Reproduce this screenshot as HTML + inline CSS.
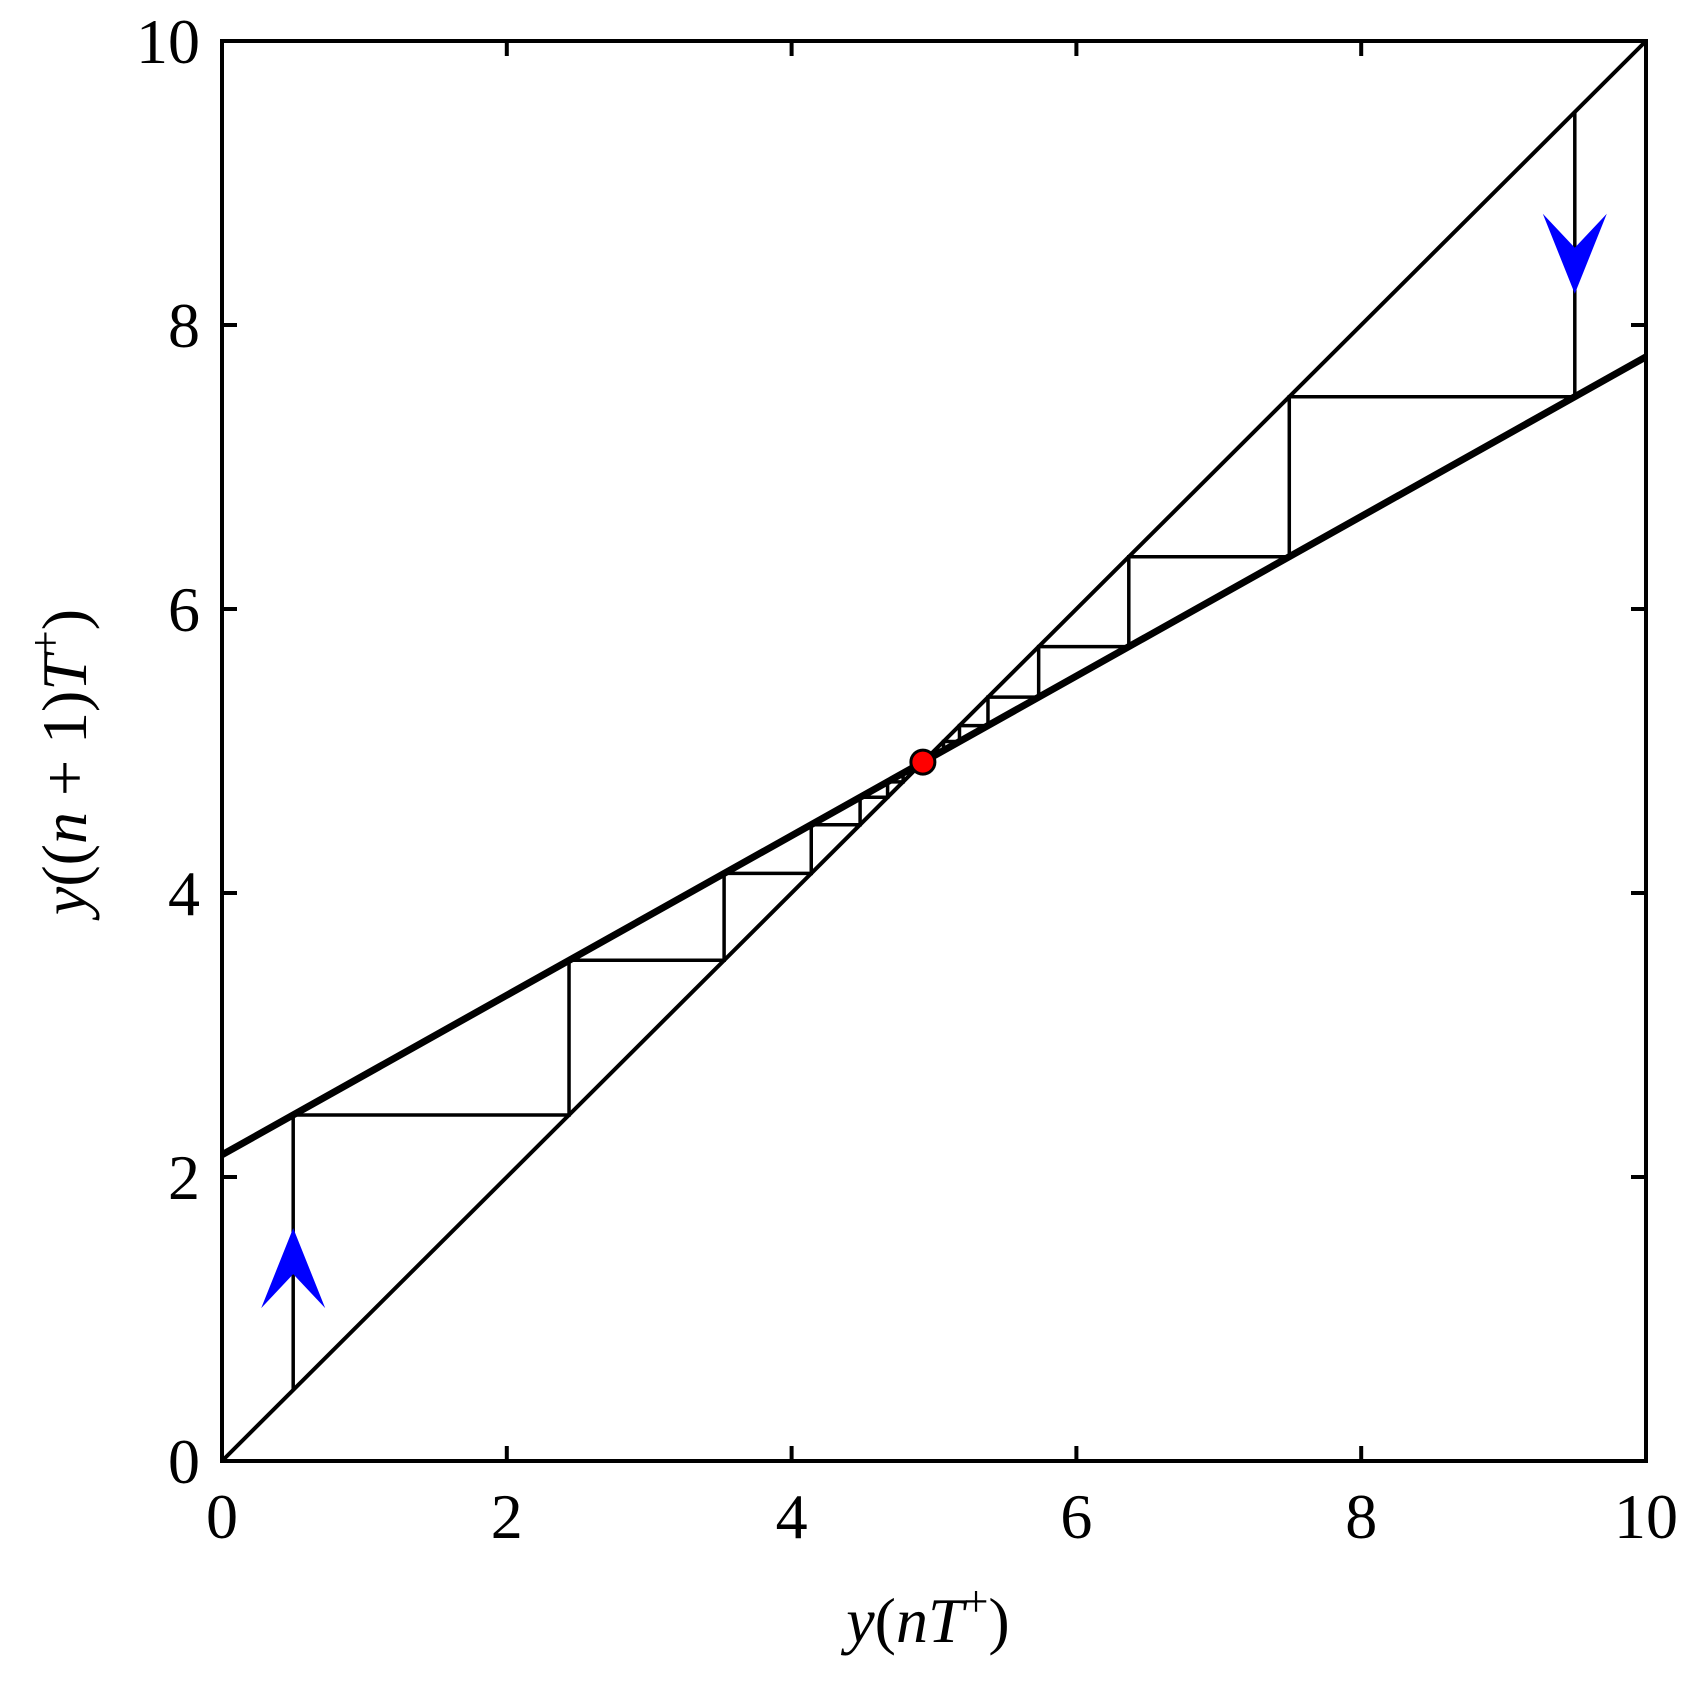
<!DOCTYPE html>
<html><head><meta charset="utf-8"><style>
html,body{margin:0;padding:0;background:#fff;}
svg{display:block;}
text{font-family:"Liberation Serif",serif;fill:#000;}
</style></head><body>
<svg id="chart" width="1702" height="1689" viewBox="0 0 1702 1689" xmlns="http://www.w3.org/2000/svg">
<g id="marks"></g>
<g id="axes"></g>
<text x="928" y="1642" font-size="64" text-anchor="middle"><tspan font-style="italic">y</tspan>(<tspan font-style="italic">nT</tspan><tspan font-size="44" dy="-26">+</tspan><tspan dy="26">)</tspan></text>
<text transform="translate(86,762) rotate(-90)" font-size="64" text-anchor="middle"><tspan font-style="italic">y</tspan>((<tspan font-style="italic">n</tspan> + 1)<tspan font-style="italic">T</tspan><tspan font-size="44" dy="-26">+</tspan><tspan dy="26">)</tspan></text>
</svg>
<script>
const xTicks = [0, 2, 4, 6, 8, 10];
const yTicks = [0, 2, 4, 6, 8, 10];
const mapIntercept = [2.156];
const mapSlope = [0.562];
const cobwebLow = [0.5, 2.437, 3.526, 4.138, 4.481, 4.674, 4.783, 4.844];
const cobwebHigh = [9.5, 7.495, 6.368, 5.735, 5.379, 5.179, 5.067, 5.004];
const fixedPoint = [4.922, 4.922];
const arrowUp = [0.5, 1.64];
const arrowDown = [9.5, 8.22];

const L = 222, R = 1646, T = 41, B = 1461;
const sx = v => L + (v - 0) / 10 * (R - L);
const sy = v => B - (v - 0) / 10 * (B - T);
const NS = 'http://www.w3.org/2000/svg';
const marks = document.getElementById('marks');
const axes = document.getElementById('axes');
function mk(tag, attrs, parent) {
  const e = document.createElementNS(NS, tag);
  for (const k in attrs) e.setAttribute(k, attrs[k]);
  parent.appendChild(e);
  return e;
}
let e = mk('line', {x1: sx(0), y1: sy(0), x2: sx(10), y2: sy(10), stroke: '#000', 'stroke-width': 4}, marks);


const f = x => mapIntercept[0] + mapSlope[0] * x;
e = mk('line', {x1: sx(0), y1: sy(f(0)), x2: sx(10), y2: sy(f(10)), stroke: '#000', 'stroke-width': 7}, marks);


function cobweb(arr, name) {
  let d = 'M' + sx(arr[0]) + ' ' + sy(arr[0]);
  for (let i = 1; i < arr.length; i++) {
    d += ' L' + sx(arr[i - 1]) + ' ' + sy(arr[i]) + ' L' + sx(arr[i]) + ' ' + sy(arr[i]);
  }
  const p = mk('path', {d: d, fill: 'none', stroke: '#000', 'stroke-width': 3.5}, marks);
  
  
}
cobweb(cobwebLow, 'cobweb-lower');
cobweb(cobwebHigh, 'cobweb-upper');
function arrow(pt, dir, name) {
  const tx = sx(pt[0]), ty = sy(pt[1]);
  const h = 80 * dir, w = 32, notch = 46 * dir;
  const d = `M${tx} ${ty} L${tx + w} ${ty + h} L${tx} ${ty + notch} L${tx - w} ${ty + h} Z`;
  const p = mk('path', {d: d, fill: '#0000ff', stroke: 'none'}, marks);
  
  
}
arrow(arrowUp, 1, 'arrow-up');
arrow(arrowDown, -1, 'arrow-down');
e = mk('circle', {cx: sx(fixedPoint[0]), cy: sy(fixedPoint[1]), r: 12, fill: '#ff0000', stroke: '#000', 'stroke-width': 3}, marks);


e = mk('rect', {x: L, y: T, width: R - L, height: B - T, fill: 'none', stroke: '#000', 'stroke-width': 4}, axes);


const tl = 15;
xTicks.forEach(v => {
  const x = sx(v);
  mk('line', {x1: x, y1: B, x2: x, y2: B - tl, stroke: '#000', 'stroke-width': 4}, axes);
  mk('line', {x1: x, y1: T, x2: x, y2: T + tl, stroke: '#000', 'stroke-width': 4}, axes);
  const t = mk('text', {x: x, y: B + 77, 'font-size': 64, 'text-anchor': 'middle'}, axes);
  t.textContent = v;
  
  
});
yTicks.forEach(v => {
  const y = sy(v);
  mk('line', {x1: L, y1: y, x2: L + tl, y2: y, stroke: '#000', 'stroke-width': 4}, axes);
  mk('line', {x1: R, y1: y, x2: R - tl, y2: y, stroke: '#000', 'stroke-width': 4}, axes);
  const t = mk('text', {x: L - 22, y: y + 22, 'font-size': 64, 'text-anchor': 'end'}, axes);
  t.textContent = v;
  
  
});
</script>
</body></html>
